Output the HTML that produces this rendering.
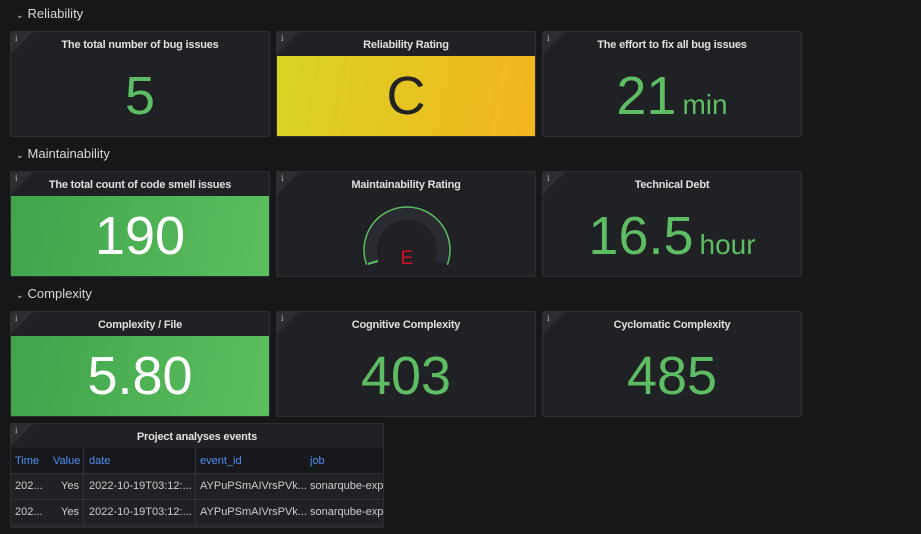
<!DOCTYPE html>
<html><head><style>
body{margin:0;width:921px;height:534px;background:#161719;font-family:"Liberation Sans",sans-serif;overflow:hidden;position:relative;color:#d8d9da}
.row{position:absolute;left:16px;font-size:13px;color:#d8d9da}
.row span{font-size:9px;margin-right:4px}
.p{position:absolute;width:258px;height:104px;background:#1f2124;border:1px solid #2c2e32;border-radius:2px;overflow:hidden}
.p .c{position:absolute;left:0;top:0;width:0;height:0;border-top:22px solid #2c2e32;border-right:22px solid transparent}
.p .i{position:absolute;left:4px;top:1px;font-size:9px;color:#bbb;font-family:"Liberation Serif",serif}
.t{position:absolute;left:0;right:0;top:7px;text-align:center;font-size:11px;color:#e0e0e0;font-weight:bold;letter-spacing:-0.2px}
.v{position:absolute;left:0;right:0;top:34px;text-align:center;font-size:54px;line-height:60px;color:#5dbd62}
.v small{font-size:28px;margin-left:6px}
.bg{position:absolute;left:0;right:0;top:24px;bottom:0}
</style></head><body>
<div class="row" style="top:6px"><span>⌄</span>Reliability</div>
<div class="row" style="top:146px"><span>⌄</span>Maintainability</div>
<div class="row" style="top:286px"><span>⌄</span>Complexity</div>

<div class="p" style="left:10px;top:31px"><div class="c"></div><div class="i">i</div><div class="t">The total number of bug issues</div><div class="v">5</div></div>
<div class="p" style="left:276px;top:31px"><div class="bg" style="background:linear-gradient(100deg,#d8d424,#f4b51f)"></div><div class="c"></div><div class="i">i</div><div class="t">Reliability Rating</div><div class="v" style="color:#222">C</div></div>
<div class="p" style="left:542px;top:31px"><div class="c"></div><div class="i">i</div><div class="t">The effort to fix all bug issues</div><div class="v">21<small>min</small></div></div>

<div class="p" style="left:10px;top:171px"><div class="bg" style="background:linear-gradient(100deg,#3fa44a,#5cbf5f)"></div><div class="c"></div><div class="i">i</div><div class="t">The total count of code smell issues</div><div class="v" style="color:#fff">190</div></div>
<div class="p" style="left:276px;top:171px"><div class="c"></div><div class="i">i</div><div class="t">Maintainability Rating</div>
<svg style="position:absolute;left:0;top:0" width="258" height="104">
<path d="M 96.2 90.3 A 36 36 0 1 1 163.8 90.3" fill="none" stroke="#2a2b30" stroke-width="12"/>
<path d="M 89.6 92.7 A 43 43 0 1 1 170.4 92.7" fill="none" stroke="#5dbd62" stroke-width="1.5"/>
<path d="M 91 92 L 101 89" stroke="#5dbd62" stroke-width="2"/>
<text x="130" y="92" text-anchor="middle" font-size="19" fill="#d3102a" font-family="Liberation Sans">E</text></svg></div>
<div class="p" style="left:542px;top:171px"><div class="c"></div><div class="i">i</div><div class="t">Technical Debt</div><div class="v">16.5<small>hour</small></div></div>

<div class="p" style="left:10px;top:311px"><div class="bg" style="background:linear-gradient(100deg,#3fa44a,#5cbf5f)"></div><div class="c"></div><div class="i">i</div><div class="t">Complexity / File</div><div class="v" style="color:#fff">5.80</div></div>
<div class="p" style="left:276px;top:311px"><div class="c"></div><div class="i">i</div><div class="t">Cognitive Complexity</div><div class="v">403</div></div>
<div class="p" style="left:542px;top:311px"><div class="c"></div><div class="i">i</div><div class="t">Cyclomatic Complexity</div><div class="v">485</div></div>

<div class="p" style="left:10px;top:423px;width:372px;height:103px;font-size:11px">
<div class="c"></div><div class="i">i</div><div class="t">Project analyses events</div>
<div style="position:absolute;top:24px;left:0;right:0;height:25px;background:#17181b"></div>
<div style="position:absolute;top:49px;left:0;right:0;height:1px;background:#2f3136"></div>
<div style="position:absolute;top:75px;left:0;right:0;height:1px;background:#2f3136"></div>
<div style="position:absolute;top:101px;left:0;right:0;height:1px;background:#2f3136"></div>
<div style="position:absolute;top:24px;left:72px;width:1px;height:80px;background:#2f3136"></div>
<div style="position:absolute;top:24px;left:184px;width:1px;height:80px;background:#2f3136"></div>
<div style="position:absolute;top:31px;left:4px;color:#4e8ef5">Time</div>
<div style="position:absolute;top:31px;left:42px;color:#4e8ef5">Value</div>
<div style="position:absolute;top:31px;left:78px;color:#4e8ef5">date</div>
<div style="position:absolute;top:31px;left:189px;color:#4e8ef5">event_id</div>
<div style="position:absolute;top:31px;left:299px;color:#4e8ef5">job</div>
<div style="position:absolute;top:56px;left:4px;color:#ccc;white-space:nowrap">202...<span style="position:absolute;left:46px">Yes</span><span style="position:absolute;left:74px">2022-10-19T03:12:...</span><span style="position:absolute;left:185px">AYPuPSmAIVrsPVk...</span><span style="position:absolute;left:295px">sonarqube-expo</span></div>
<div style="position:absolute;top:82px;left:4px;color:#ccc;white-space:nowrap">202...<span style="position:absolute;left:46px">Yes</span><span style="position:absolute;left:74px">2022-10-19T03:12:...</span><span style="position:absolute;left:185px">AYPuPSmAIVrsPVk...</span><span style="position:absolute;left:295px">sonarqube-expo</span></div>
</div>
</body></html>
